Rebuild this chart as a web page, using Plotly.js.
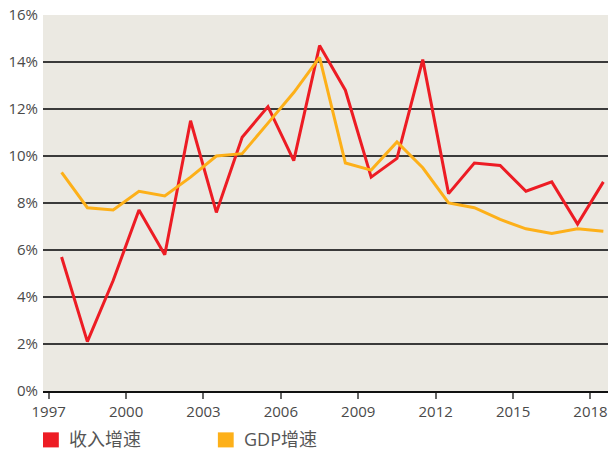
<!DOCTYPE html>
<html><head><meta charset="utf-8">
<script src="https://cdn.plot.ly/plotly-3.0.1.min.js"></script>
<style>html,body{margin:0;padding:0;background:#fff}</style>
</head><body>
<div id="chart" style="width:608px;height:450px"></div>
<script>
const years = [1997.5,1998.5,1999.5,2000.5,2001.5,2002.5,2003.5,2004.5,2005.5,2006.5,2007.5,2008.5,2009.5,2010.5,2011.5,2012.5,2013.5,2014.5,2015.5,2016.5,2017.5,2018.5];
const incomeGrowth = [5.7,2.1,4.7,7.7,5.8,11.5,7.6,10.8,12.1,9.8,14.7,12.8,9.1,9.9,14.1,8.4,9.7,9.6,8.5,8.9,7.1,8.9];
const gdpGrowth = [9.3,7.8,7.7,8.5,8.3,9.1,10.0,10.1,11.4,12.7,14.2,9.7,9.4,10.6,9.5,8.0,7.8,7.3,6.9,6.7,6.9,6.8];
const xTicks = [1997,2000,2003,2006,2009,2012,2015,2018];
const yTicks = [0,2,4,6,8,10,12,14,16];
const seriesNames = ['收入增速','GDP增速'];
const colors = ['#ed1c24','#fdb019'];
const font = 'Open Sans, Noto Sans CJK SC, sans-serif';

const traces = [
  {x: years, y: incomeGrowth, mode: 'lines', name: seriesNames[0], line: {color: colors[0], width: 3}, showlegend: false},
  {x: years, y: gdpGrowth, mode: 'lines', name: seriesNames[1], line: {color: colors[1], width: 3}, showlegend: false}
];

const layout = {
  width: 608, height: 450,
  margin: {l: 43, r: 0, t: 15, b: 59},
  paper_bgcolor: '#ffffff',
  plot_bgcolor: '#ebe9e2',
  font: {family: font, size: 15, color: '#4a4a4a'},
  xaxis: {
    range: [1996.78, 2018.68], tickvals: xTicks, ticktext: xTicks.map(String),
    showgrid: false, zeroline: false, showline: true, linecolor: '#111', linewidth: 2,
    ticks: 'outside', ticklen: 6, tickwidth: 2, tickcolor: '#666',
    tickfont: {size: 15, color: '#4a4a4a'}
  },
  yaxis: {
    range: [0, 16], tickvals: yTicks, ticktext: yTicks.map(v => v + '%'),
    showgrid: true, gridcolor: '#3a3a3a', gridwidth: 1.5, zeroline: false,
    showline: false, ticks: '', ticklabelstandoff: 4,
    tickfont: {size: 15, color: '#4a4a4a'}
  },
  shapes: [
    {type: 'rect', xref: 'paper', yref: 'paper', x0: 0, x1: 0.028, y0: -0.11, y1: -0.15, fillcolor: colors[0], line: {width: 0}},
    {type: 'rect', xref: 'paper', yref: 'paper', x0: 0.3095, x1: 0.3375, y0: -0.11, y1: -0.15, fillcolor: colors[1], line: {width: 0}}
  ],
  annotations: [
    {xref: 'paper', yref: 'paper', x: 0.042, y: -0.128, xanchor: 'left', yanchor: 'middle', showarrow: false, text: seriesNames[0], font: {family: font, size: 18, color: '#555'}},
    {xref: 'paper', yref: 'paper', x: 0.352, y: -0.128, xanchor: 'left', yanchor: 'middle', showarrow: false, text: seriesNames[1], font: {family: font, size: 18, color: '#555'}}
  ]
};

Plotly.newPlot('chart', traces, layout, {displayModeBar: false, staticPlot: true});
</script>
</body></html>
